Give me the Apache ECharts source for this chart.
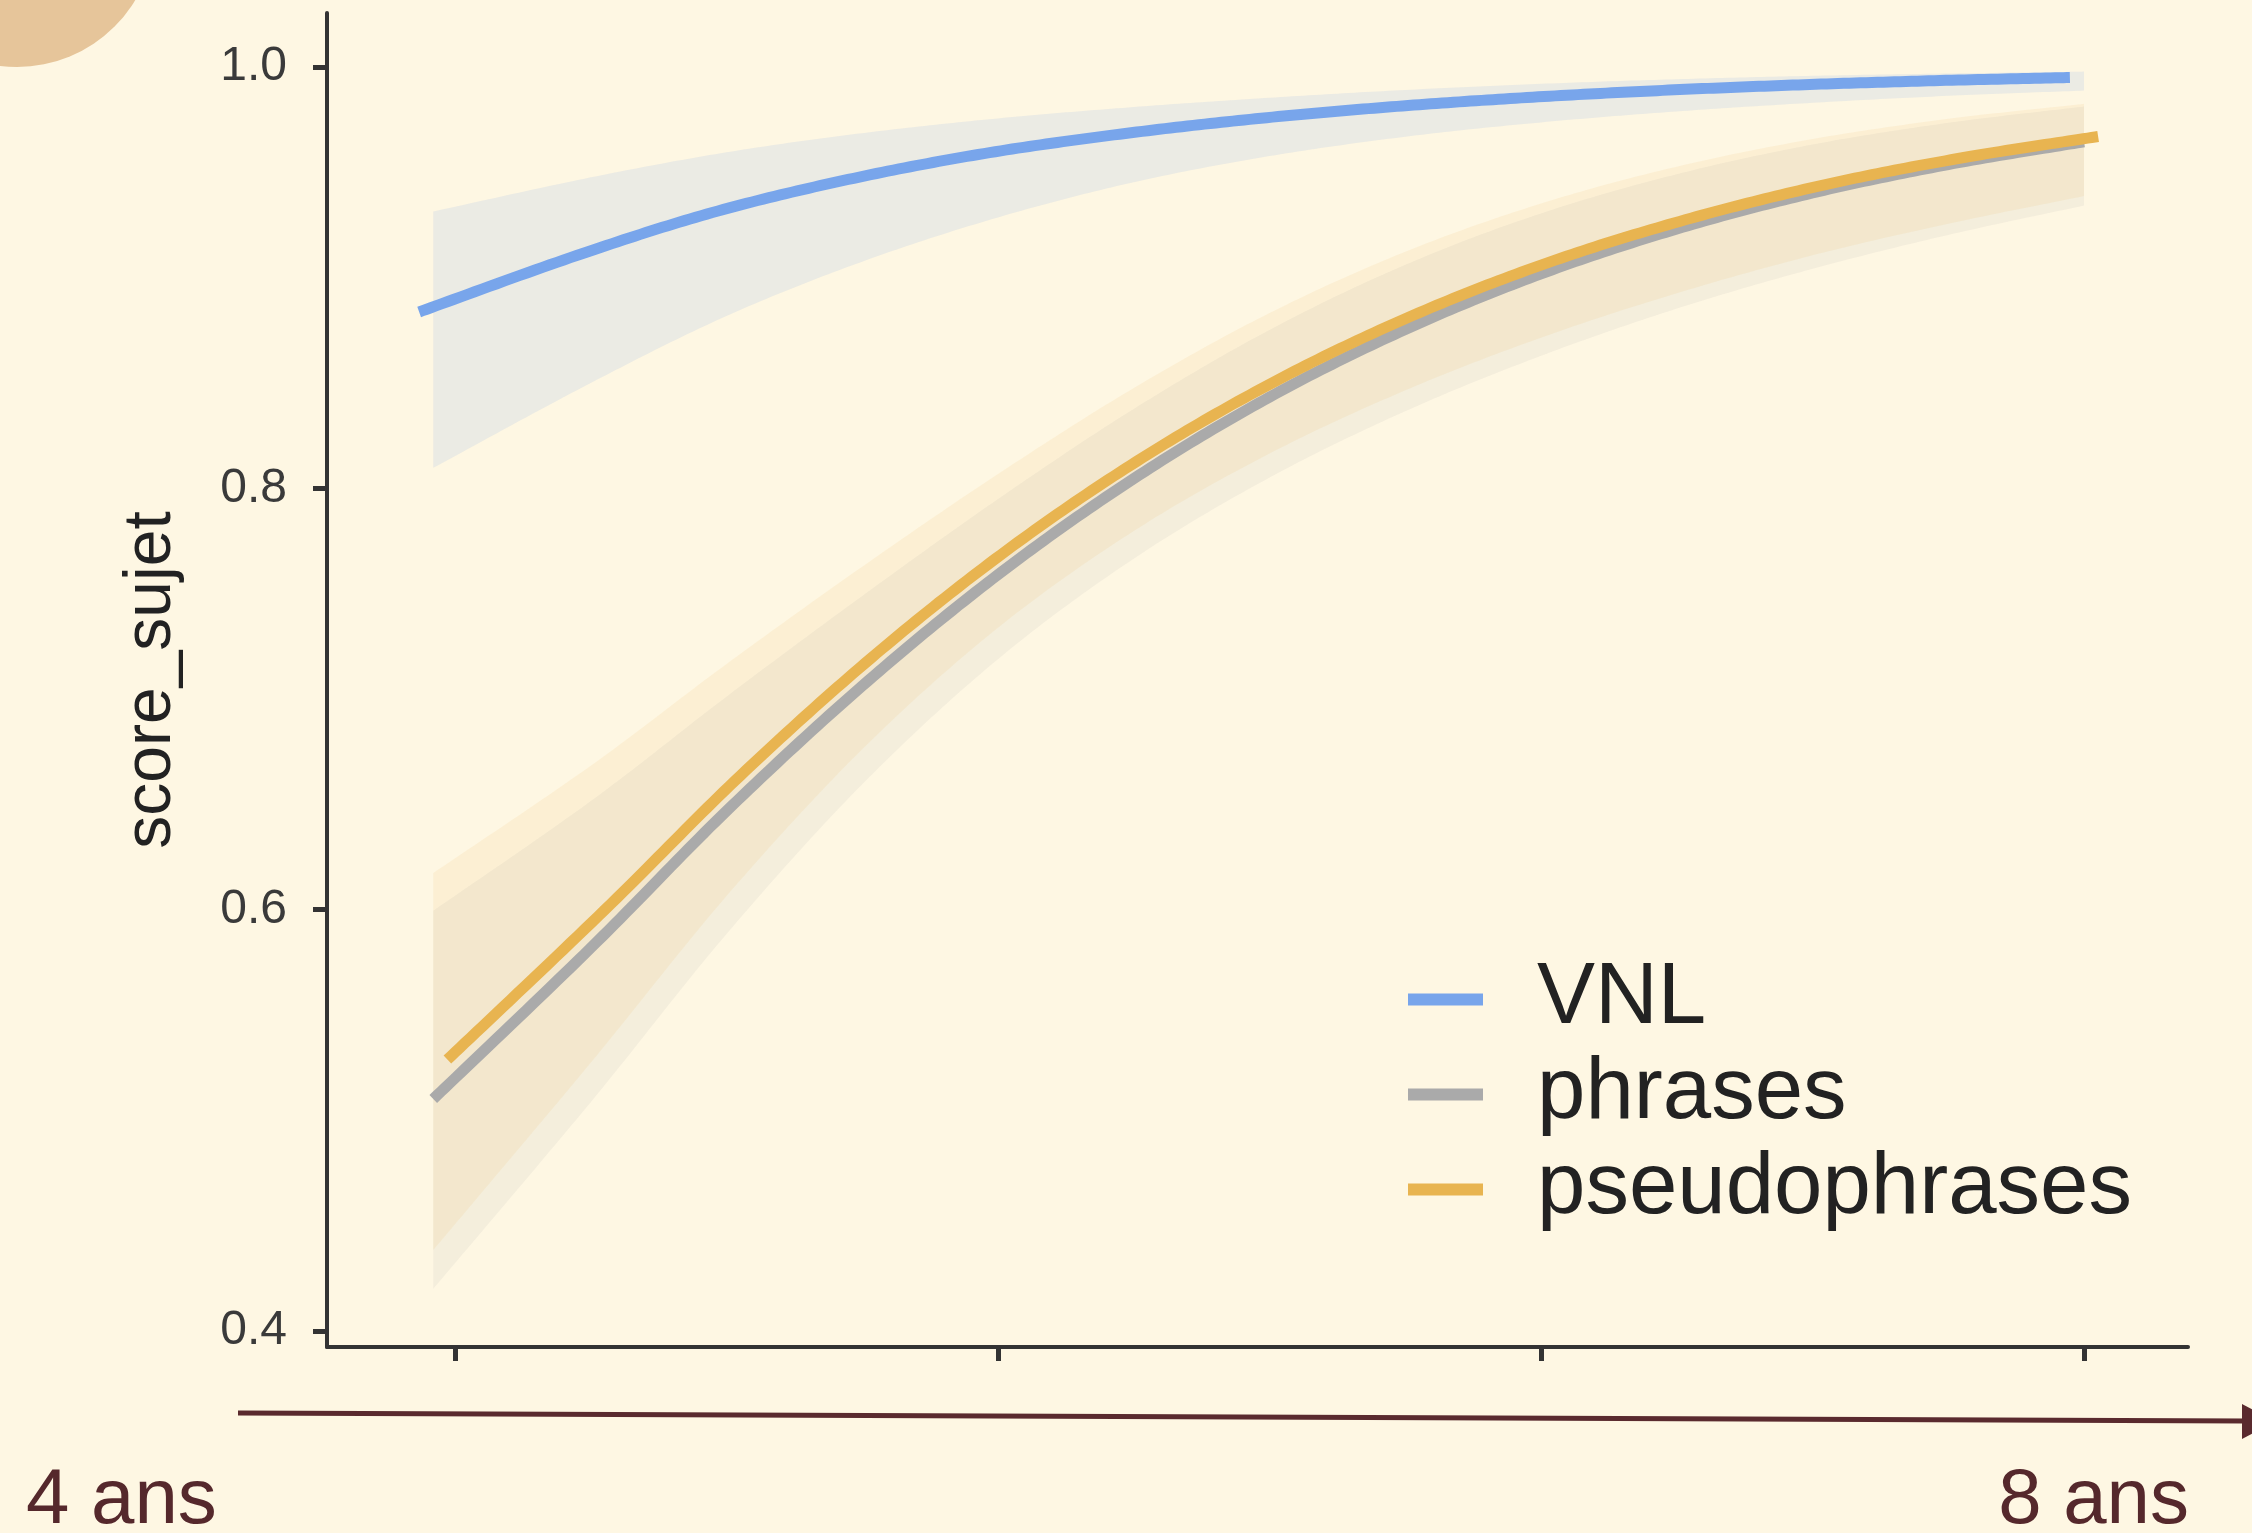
<!DOCTYPE html>
<html>
<head>
<meta charset="utf-8">
<script src="https://cdn.jsdelivr.net/npm/echarts@6/dist/echarts.min.js"></script>
<style>
html,body{margin:0;padding:0;background:#fef7e3;}
#chart{width:2252px;height:1533px;}
</style>
</head>
<body>
<div id="chart"></div>
<script>
// ---- data (x in unlabeled axis units; ticks at 0..3) ----
const xs = [-0.04, 0.25, 0.5, 0.75, 1.0, 1.25, 1.5, 1.75, 2.0, 2.25, 2.5, 2.75, 3.0];
const xTicks = [0, 1, 2, 3];
const yTicks = [0.4, 0.6, 0.8, 1.0];
const seriesNames = ['VNL', 'phrases', 'pseudophrases'];

const vnl      = [0.8837, 0.9105, 0.9309, 0.9466, 0.9589, 0.9681, 0.9754, 0.9811, 0.9855, 0.9889, 0.9915, 0.9935, 0.9950];
const vnlLow   = [0.8097, 0.8500, 0.8818, 0.9076, 0.9286, 0.9453, 0.9577, 0.9669, 0.9737, 0.9789, 0.9830, 0.9863, 0.9888];
const vnlHigh  = [0.9314, 0.9476, 0.9595, 0.9686, 0.9756, 0.9810, 0.9854, 0.9891, 0.9920, 0.9942, 0.9958, 0.9969, 0.9978];

const phrases     = [0.5101, 0.5818, 0.6468, 0.7062, 0.7590, 0.8046, 0.8433, 0.8754, 0.9018, 0.9231, 0.9402, 0.9537, 0.9645];
const phrasesLow  = [0.4200, 0.5086, 0.5884, 0.6595, 0.7189, 0.7666, 0.8051, 0.8366, 0.8629, 0.8853, 0.9042, 0.9203, 0.9342];
const phrasesHigh = [0.5995, 0.6515, 0.7011, 0.7489, 0.7949, 0.8377, 0.8752, 0.9061, 0.9305, 0.9491, 0.9632, 0.9735, 0.9812];

const pseudo     = [0.5288, 0.5999, 0.6637, 0.7215, 0.7724, 0.8161, 0.8529, 0.8834, 0.9083, 0.9282, 0.9443, 0.9569, 0.9670];
const pseudoLow  = [0.4384, 0.5273, 0.6064, 0.6761, 0.7338, 0.7797, 0.8165, 0.8465, 0.8715, 0.8926, 0.9106, 0.9256, 0.9387];
const pseudoHigh = [0.6174, 0.6683, 0.7166, 0.7628, 0.8068, 0.8476, 0.8832, 0.9123, 0.9352, 0.9527, 0.9658, 0.9754, 0.9825];

// ---- styling ----
const FONT = "'Liberation Sans', Arial, Helvetica, sans-serif";
const colors = { VNL: '#78a5eb', phrases: '#aaaaaa', pseudophrases: '#e8b450' };
const ribbonOpacity = { VNL: 0.14, phrases: 0.12, pseudophrases: 0.10 };
const dodge = { VNL: -0.026, phrases: 0, pseudophrases: 0.026 };
const axisColor = '#333333';

const groups = [
  { name: 'VNL', mid: vnl, low: vnlLow, high: vnlHigh },
  { name: 'phrases', mid: phrases, low: phrasesLow, high: phrasesHigh },
  { name: 'pseudophrases', mid: pseudo, low: pseudoLow, high: pseudoHigh }
];

// Catmull-Rom curve through pixel points (rendering only)
function curve(pts, steps) {
  const out = [];
  const n = pts.length;
  for (let i = 0; i < n - 1; i++) {
    const p0 = pts[Math.max(i - 1, 0)], p1 = pts[i], p2 = pts[i + 1], p3 = pts[Math.min(i + 2, n - 1)];
    for (let s = 0; s < steps; s++) {
      const t = s / steps, t2 = t * t, t3 = t2 * t;
      const f = k => 0.5 * (2 * p1[k] + (-p0[k] + p2[k]) * t + (2 * p0[k] - 5 * p1[k] + 4 * p2[k] - p3[k]) * t2 + (-p0[k] + 3 * p1[k] - 3 * p2[k] + p3[k]) * t3);
      out.push([f(0), f(1)]);
    }
  }
  out.push(pts[n - 1]);
  return out;
}

const series = [];
groups.forEach(g => {
  series.push({
    name: g.name + ' IC', type: 'custom', silent: true, z: 1,
    data: [[xs[0], g.mid[0]]],
    renderItem: (params, api) => {
      const up = xs.map((x, i) => api.coord([x, g.high[i]]));
      const lo = xs.map((x, i) => api.coord([x, g.low[i]]));
      const pts = curve(up, 24).concat(curve(lo, 24).reverse());
      return {
        type: 'polygon',
        shape: { points: pts },
        style: { fill: colors[g.name], opacity: ribbonOpacity[g.name] }
      };
    }
  });
});
groups.forEach((g, k) => {
  series.push({
    name: g.name, type: 'custom', silent: true, z: 3 + k,
    itemStyle: { color: colors[g.name] },
    data: [[xs[0] + dodge[g.name], g.mid[0]]],
    renderItem: (params, api) => {
      const pts = xs.map((x, i) => api.coord([x + dodge[g.name], g.mid[i]]));
      return {
        type: 'polyline',
        shape: { points: curve(pts, 24) },
        style: { stroke: colors[g.name], lineWidth: 11, fill: null, lineCap: 'butt', lineJoin: 'round' }
      };
    }
  });
});

const chart = echarts.init(document.getElementById('chart'), null, { renderer: 'canvas' });
chart.setOption({
  animation: false,
  backgroundColor: '#fef7e3',
  grid: { left: 327, top: 13, width: 1861, height: 1334, containLabel: false },
  xAxis: {
    type: 'value', min: -0.2357, max: 3.1915,
    axisLine: { show: true, onZero: false, lineStyle: { color: axisColor, width: 4 } },
    axisTick: { show: true, inside: false, length: 14, customValues: xTicks, lineStyle: { color: axisColor, width: 5 } },
    axisLabel: { show: false },
    splitLine: { show: false }
  },
  yAxis: {
    type: 'value', min: 0.39236, max: 1.02563,
    name: 'score_sujet', nameLocation: 'middle', nameRotate: 90, nameGap: 142,
    nameTextStyle: { fontSize: 66, color: '#222222', fontFamily: FONT },
    axisLine: { show: true, onZero: false, lineStyle: { color: axisColor, width: 4 } },
    axisTick: { show: true, inside: false, length: 14, customValues: yTicks, lineStyle: { color: axisColor, width: 5 } },
    axisLabel: { show: true, customValues: yTicks, formatter: v => Number(v).toFixed(1), fontSize: 48, color: '#3a3a3a', margin: 40, fontFamily: FONT },
    splitLine: { show: false }
  },
  legend: {
    data: seriesNames, orient: 'vertical', left: 1403, top: 947,
    icon: 'rect', itemWidth: 75, itemHeight: 12, itemGap: 0,
    itemStyle: { borderWidth: 0 },
    textStyle: { fontSize: 87, lineHeight: 95, color: '#222222', fontFamily: FONT, padding: [0, 0, 0, 49] },
    selectedMode: false
  },
  series: series,
  graphic: [
    { type: 'circle', z: -1, shape: { cx: 17, cy: -71, r: 138 }, style: { fill: '#e6c59a' } },
    { type: 'line', shape: { x1: 238, y1: 1413, x2: 2246, y2: 1421 }, style: { stroke: '#5a2a2e', lineWidth: 5 } },
    { type: 'polygon', shape: { points: [[2242, 1404], [2242, 1439], [2276, 1421.5]] }, style: { fill: '#5a2a2e' } },
    { type: 'text', x: 26, y: 1501, style: { text: '4 ans', fontSize: 78, fontFamily: FONT, fill: '#55282c', textAlign: 'left', textVerticalAlign: 'middle' } },
    { type: 'text', x: 2189, y: 1501, style: { text: '8 ans', fontSize: 78, fontFamily: FONT, fill: '#55282c', textAlign: 'right', textVerticalAlign: 'middle' } }
  ]
});
</script>
</body>
</html>
